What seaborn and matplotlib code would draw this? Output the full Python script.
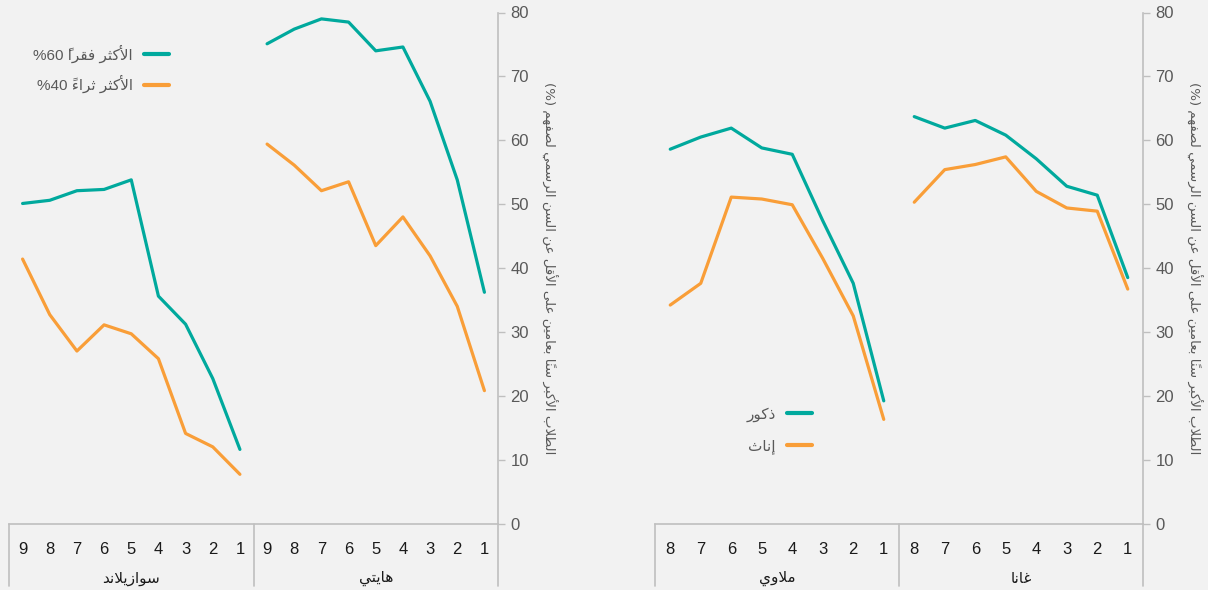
import numpy as np
import pandas as pd
import matplotlib
matplotlib.use('Agg')
import matplotlib.pyplot as plt
import seaborn as sns
from matplotlib.lines import Line2D

# ---------------- data ----------------
countries_left = ['سوازيلاند', 'هايتي']
countries_right = ['ملاوي', 'غانا']
grades_left = [['9', '8', '7', '6', '5', '4', '3', '2', '1'],
               ['9', '8', '7', '6', '5', '4', '3', '2', '1']]
grades_right = [['8', '7', '6', '5', '4', '3', '2', '1'],
                ['8', '7', '6', '5', '4', '3', '2', '1']]

swz_poor = [50.1, 50.6, 52.1, 52.3, 53.8, 35.6, 31.2, 22.7, 11.6]
swz_rich = [41.4, 32.7, 27.0, 31.1, 29.7, 25.8, 14.1, 12.0, 7.7]
hti_poor = [75.1, 77.4, 79.0, 78.5, 74.0, 74.6, 66.1, 53.8, 36.2]
hti_rich = [59.4, 56.1, 52.1, 53.5, 43.5, 48.0, 41.9, 34.0, 20.8]

mwi_male = [58.6, 60.5, 61.9, 58.8, 57.8, 47.4, 37.6, 19.2]
mwi_female = [34.2, 37.6, 51.1, 50.8, 49.9, 41.5, 32.5, 16.3]
gha_male = [63.7, 61.9, 63.1, 60.8, 57.1, 52.8, 51.4, 38.5]
gha_female = [50.3, 55.4, 56.2, 57.4, 52.0, 49.4, 48.9, 36.7]

names_left = ['الأكثر فقراً 60%', 'الأكثر ثراءً 40%']
names_right = ['ذكور', 'إناث']
ylabel = 'الطلاب الأكبر سنًا بعامين على الأقل عن السن الرسمي لصفهم (%)'

GREEN = '#00a99d'
ORANGE = '#f99e38'
GRID = '#bfbfbf'
GREY_TXT = '#595959'
BG = '#f2f2f2'

# ---------------- arabic shaping (no bidi lib available) ----------------
AR = {
    '\u0621': (0xFE80, 1), '\u0622': (0xFE81, 2), '\u0623': (0xFE83, 2), '\u0624': (0xFE85, 2),
    '\u0625': (0xFE87, 2), '\u0626': (0xFE89, 4), '\u0627': (0xFE8D, 2), '\u0628': (0xFE8F, 4),
    '\u0629': (0xFE93, 2), '\u062A': (0xFE95, 4), '\u062B': (0xFE99, 4), '\u062C': (0xFE9D, 4),
    '\u062D': (0xFEA1, 4), '\u062E': (0xFEA5, 4), '\u062F': (0xFEA9, 2), '\u0630': (0xFEAB, 2),
    '\u0631': (0xFEAD, 2), '\u0632': (0xFEAF, 2), '\u0633': (0xFEB1, 4), '\u0634': (0xFEB5, 4),
    '\u0635': (0xFEB9, 4), '\u0636': (0xFEBD, 4), '\u0637': (0xFEC1, 4), '\u0638': (0xFEC5, 4),
    '\u0639': (0xFEC9, 4), '\u063A': (0xFECD, 4), '\u0641': (0xFED1, 4), '\u0642': (0xFED5, 4),
    '\u0643': (0xFED9, 4), '\u0644': (0xFEDD, 4), '\u0645': (0xFEE1, 4), '\u0646': (0xFEE5, 4),
    '\u0647': (0xFEE9, 4), '\u0648': (0xFEED, 2), '\u0649': (0xFEEF, 2), '\u064A': (0xFEF1, 4),
}
LAM_ALEF = {'\u0622': 0xFEF5, '\u0623': 0xFEF7, '\u0625': 0xFEF9, '\u0627': 0xFEFB}
MARKS = set(chr(c) for c in range(0x064B, 0x0653)) | {'\u0670'}
MIRROR = {'(': ')', ')': '('}


def ar(s):
    toks = []
    i = 0
    while i < len(s):
        c = s[i]
        if c in MARKS and toks:
            toks[-1]['marks'].append(c)
            i += 1
            continue
        if c == '\u0644':
            j = i + 1
            m = []
            while j < len(s) and s[j] in MARKS:
                m.append(s[j])
                j += 1
            if j < len(s) and s[j] in LAM_ALEF:
                toks.append({'base': LAM_ALEF[s[j]], 'n': 2, 'marks': m, 'ch': None})
                i = j + 1
                continue
        if c in AR:
            toks.append({'base': AR[c][0], 'n': AR[c][1], 'marks': [], 'ch': None})
        else:
            toks.append({'base': None, 'n': 0, 'marks': [], 'ch': c})
        i += 1

    glyphs = []
    for k, t in enumerate(toks):
        if t['n'] == 0:
            glyphs.append(MIRROR.get(t['ch'], t['ch']))
            continue
        prev = toks[k - 1] if k > 0 else None
        nxt = toks[k + 1] if k + 1 < len(toks) else None
        jp = prev is not None and prev['n'] == 4 and t['n'] >= 2
        jn = t['n'] == 4 and nxt is not None and nxt['n'] >= 2
        if t['n'] == 1:
            f = 0
        elif t['n'] == 2:
            f = 1 if jp else 0
        else:
            f = 3 if (jp and jn) else 1 if jp else 2 if jn else 0
        # zero-width mark first so it sits over its letter
        glyphs.append(''.join(t['marks']) + chr(t['base'] + f))

    glyphs = glyphs[::-1]
    # keep digit runs left-to-right
    out = []
    run = []
    for g in glyphs:
        if g.isdigit():
            run.append(g)
        else:
            out.extend(run[::-1])
            run = []
            out.append(g)
    out.extend(run[::-1])
    return ''.join(out)


# ---------------- long tables ----------------
def build(countries, grades, a_vals, b_vals, names):
    rows = []
    pos = 0
    for c, g, a, b in zip(countries, grades, a_vals, b_vals):
        for lab, va, vb in zip(g, a, b):
            rows.append({'country': c, 'grade': lab, 'pos': pos, 'series': names[0], 'value': va})
            rows.append({'country': c, 'grade': lab, 'pos': pos, 'series': names[1], 'value': vb})
            pos += 1
    return pd.DataFrame(rows)


df_left = build(countries_left, grades_left, [swz_poor, hti_poor], [swz_rich, hti_rich], names_left)
df_right = build(countries_right, grades_right, [mwi_male, gha_male], [mwi_female, gha_female], names_right)

sns.set_theme(style='white')
plt.rcParams['font.family'] = ['Liberation Sans', 'DejaVu Sans']
plt.rcParams['axes.facecolor'] = BG
plt.rcParams['figure.facecolor'] = BG

fig = plt.figure(figsize=(12.08, 5.9), dpi=100)
bottom = 1 - 523.5 / 590
height = 511 / 590
ax1 = fig.add_axes([9 / 1208, bottom, 489 / 1208, height])
ax2 = fig.add_axes([655 / 1208, bottom, 488 / 1208, height])


def draw_panel(ax, df, countries, grades, names):
    sns.lineplot(data=df, x='pos', y='value', hue='series', hue_order=names,
                 units='country', estimator=None, sort=False,
                 palette=[GREEN, ORANGE], linewidth=2.3, legend=False, ax=ax)
    n = df['pos'].nunique()
    ax.set_xlim(-0.5, n - 0.5)
    ax.set_ylim(0, 80)
    ax.set_xticks([])
    ax.set_xlabel('')
    ax.yaxis.tick_right()
    ax.set_yticks(np.arange(0, 81, 10))
    ax.tick_params(axis='y', direction='out', length=5, width=1, color=GRID,
                   labelcolor=GREY_TXT, labelsize=12, pad=4, right=True, left=False)
    for s in ['left', 'top']:
        ax.spines[s].set_visible(False)
    for s in ['right', 'bottom']:
        ax.spines[s].set_color(GRID)
        ax.spines[s].set_linewidth(1.2)
    ax.yaxis.set_label_position('right')
    ax.set_ylabel(ar(ylabel), rotation=270, fontsize=9.6, color=GREY_TXT,
                  labelpad=20, family=['DejaVu Sans'])

    trans = ax.get_xaxis_transform()
    start = 0
    edges = [-0.5]
    for c, g in zip(countries, grades):
        for k, lab in enumerate(g):
            ax.text(start + k, -0.05, lab, transform=trans, ha='center', va='center',
                    fontsize=12, color='#1a1a1a')
        mid = start + (len(g) - 1) / 2
        ax.text(mid, -0.107, ar(c), transform=trans, ha='center', va='center',
                fontsize=11, color='#1a1a1a', family=['DejaVu Sans'])
        start += len(g)
        edges.append(start - 0.5)
    for e in edges:
        ax.plot([e, e], [0, -0.122], transform=trans, color=GRID, lw=1.2, clip_on=False)


draw_panel(ax1, df_left, countries_left, grades_left, names_left)
draw_panel(ax2, df_right, countries_right, grades_right, names_right)


def rtl_legend(ax, names, x_px, y_px, spacing):
    handles = [Line2D([], [], color=GREEN, lw=3), Line2D([], [], color=ORANGE, lw=3)]
    leg = ax.legend(handles, [ar(nm) for nm in names], markerfirst=False, frameon=False,
                    loc='upper right', bbox_to_anchor=(x_px / 1208, 1 - y_px / 590),
                    bbox_transform=fig.transFigure, borderpad=0, borderaxespad=0,
                    handlelength=1.63, handletextpad=0.72, labelspacing=spacing, fontsize=11)
    for t in leg.get_texts():
        t.set_color(GREY_TXT)
        t.set_family(['Liberation Sans', 'DejaVu Sans'])
    return leg


rtl_legend(ax1, names_left, 168.5, 44.5, 0.8)
rtl_legend(ax2, names_right, 812, 407, 1.14)

fig.savefig('out.png', dpi=100, facecolor=BG)
